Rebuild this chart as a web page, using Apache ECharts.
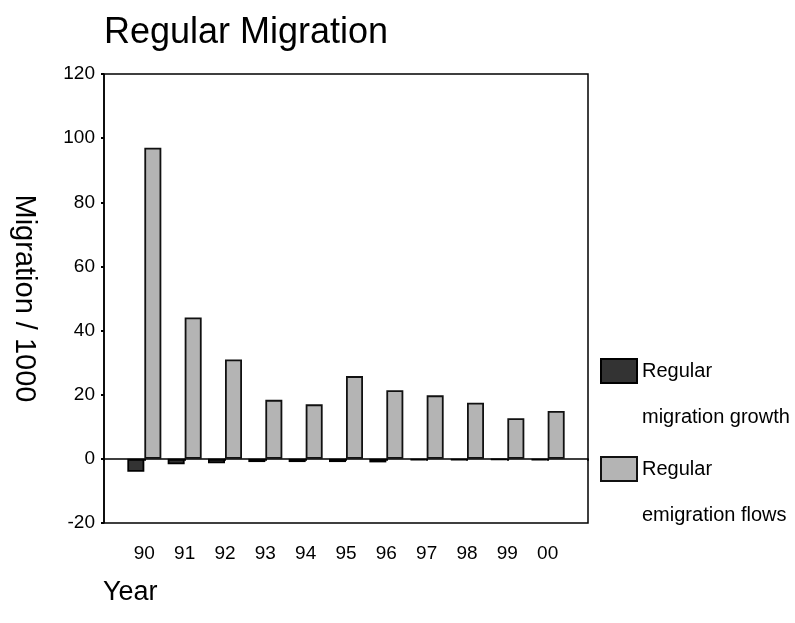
<!DOCTYPE html>
<html>
<head>
<meta charset="utf-8">
<script src="https://cdn.jsdelivr.net/npm/echarts@6/dist/echarts.min.js"></script>
<style>html,body{margin:0;padding:0;background:#fff}#c{width:795px;height:623px}</style>
</head>
<body>
<div id="c"></div>
<script>
var years = ['90','91','92','93','94','95','96','97','98','99','00'];
var growth = [-4.0, -1.7, -1.4, -1.0, -1.0, -1.0, -1.1, -0.5, -0.5, -0.3, -0.5];
var flows = [97.0, 44.1, 31.0, 18.4, 17.0, 25.8, 21.4, 19.8, 17.5, 12.7, 14.9];
var yTicks = {min: -20, max: 120, interval: 20};
var nameGrowth = 'Regular\nmigration growth';
var nameFlows = 'Regular\nemigration flows';

var FONT = "'Liberation Sans', Arial, sans-serif";
// pad with empty slots so year ticks sit one step inside the frame
var cats = [''].concat(years, ['']);
var padData = function (arr) { return ['-'].concat(arr, ['-']); };

var chart = echarts.init(document.getElementById('c'), null, {renderer: 'canvas'});
var legendBase = {
  orient: 'vertical', left: 600, padding: 0,
  icon: 'rect', itemWidth: 36, itemHeight: 24,
  formatter: function (n) { return '\n' + n; },
  textStyle: {fontFamily: FONT, fontSize: 20, color: '#000', lineHeight: 46}
};
chart.setOption({
  animation: false,
  backgroundColor: '#fff',
  title: [
    {text: 'Regular Migration', left: 104, top: 15, padding: 0,
     textStyle: {fontFamily: FONT, fontSize: 36, fontWeight: 'normal', color: '#000', lineHeight: 36}},
    {text: 'Year', left: 103, top: 579, padding: 0,
     textStyle: {fontFamily: FONT, fontSize: 27, fontWeight: 'normal', color: '#000', lineHeight: 27}}
  ],
  legend: [
    Object.assign({}, legendBase, {top: 302, data: [nameGrowth]}),
    Object.assign({}, legendBase, {top: 400, data: [nameFlows]})
  ],
  grid: {left: 104, right: 207, top: 74, bottom: 100, show: true, borderColor: '#000', borderWidth: 1.5, backgroundColor: 'transparent'},
  xAxis: {
    type: 'category', data: cats, boundaryGap: false,
    axisLine: {show: true, lineStyle: {color: '#000', width: 1.5}},
    axisTick: {show: true, length: 2, lineStyle: {color: '#000', width: 2}},
    axisLabel: {fontFamily: FONT, fontSize: 19, color: '#000', margin: 21, interval: 0},
    splitLine: {show: false}
  },
  yAxis: {
    type: 'value', min: yTicks.min, max: yTicks.max, interval: yTicks.interval,
    name: 'Migration / 1000', nameLocation: 'middle', nameRotate: -90, nameGap: 66,
    nameTextStyle: {fontFamily: FONT, fontSize: 29, color: '#000'},
    axisLine: {show: true, lineStyle: {color: '#000', width: 1.5}},
    axisTick: {show: true, length: 3, lineStyle: {color: '#000', width: 2}},
    axisLabel: {fontFamily: FONT, fontSize: 19, color: '#000', margin: 9},
    splitLine: {show: false}
  },
  series: [
    {name: nameGrowth, type: 'bar', data: padData(growth), barWidth: 17, barGap: '0%',
     itemStyle: {color: '#333333', borderColor: '#000', borderWidth: 1.8}},
    {name: nameFlows, type: 'bar', data: padData(flows), barWidth: 17, barGap: '0%',
     itemStyle: {color: '#b4b4b4', borderColor: '#111', borderWidth: 1.8}}
  ]
});
</script>
</body>
</html>
